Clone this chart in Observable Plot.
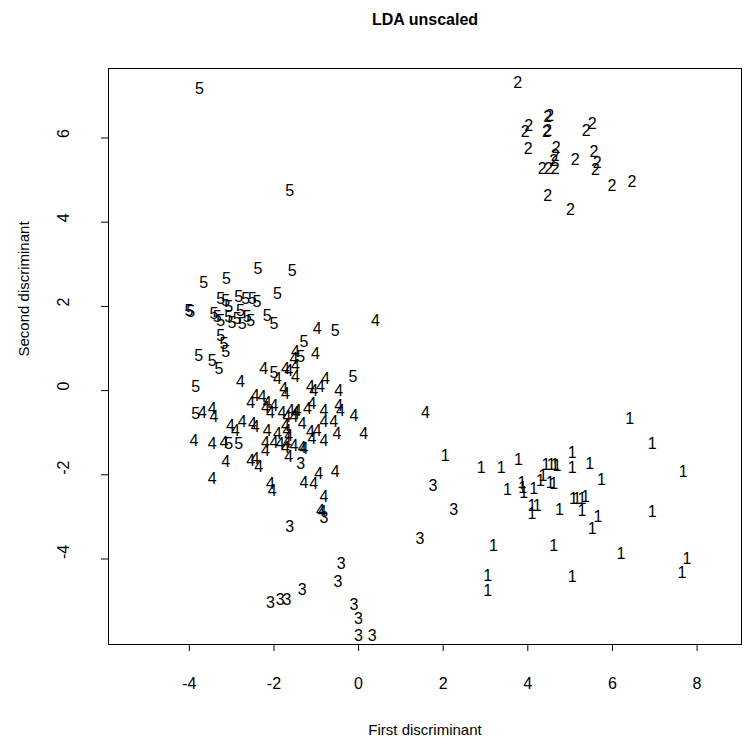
<!DOCTYPE html>
<html><head><meta charset="utf-8">
<script src="https://cdn.jsdelivr.net/npm/d3@7"></script>
<script src="https://cdn.jsdelivr.net/npm/@observablehq/plot@0.6"></script>
<style>body{margin:0;background:#fff}</style>
</head><body><div id="chart"></div>
<script>
// Chart values
const title = "LDA unscaled";
const xLabel = "First discriminant";
const yLabel = "Second discriminant";
const xTicks = [-4, -2, 0, 2, 4, 6, 8];
const yTicks = [-4, -2, 0, 2, 4, 6];
const classes = ["1", "2", "3", "4", "5"];

const group1X = [6.41,6.94,7.67,2.05,2.90,3.37,3.78,4.43,4.55,4.64,4.69,5.05,5.05,5.46,5.74,3.52,3.86,3.88,3.90,4.14,4.30,4.36,4.53,4.61,4.10,4.22,4.10,4.75,5.08,5.16,5.28,5.36,5.28,5.66,5.52,6.94,3.19,4.61,6.20,7.76,7.64,5.05,3.05,3.05];
const group1Y = [-0.67,-1.27,-1.94,-1.56,-1.84,-1.84,-1.65,-1.76,-1.76,-1.76,-1.78,-1.47,-1.84,-1.74,-2.12,-2.36,-2.18,-2.30,-2.42,-2.33,-2.14,-2.02,-2.18,-2.22,-2.73,-2.73,-2.93,-2.83,-2.57,-2.57,-2.57,-2.53,-2.85,-3.01,-3.29,-2.89,-3.68,-3.68,-3.88,-4.00,-4.32,-4.43,-4.39,-4.75];

const group2X = [3.76,4.47,4.52,4.02,3.94,4.44,4.47,5.52,5.38,4.01,4.67,4.65,5.12,5.56,5.64,5.60,4.34,4.49,4.65,4.61,5.99,6.46,4.47,5.01];
const group2Y = [7.32,6.49,6.53,6.29,6.14,6.14,6.18,6.33,6.16,5.74,5.76,5.58,5.48,5.66,5.42,5.24,5.27,5.27,5.27,5.46,4.87,4.95,4.63,4.29];

const group3X = [1.76,2.25,1.45,-1.63,-0.82,-0.41,-0.49,-1.33,-2.08,-1.85,-1.69,-0.11,0.00,0.00,0.32,-1.37];
const group3Y = [-2.26,-2.83,-3.51,-3.23,-3.02,-4.12,-4.54,-4.73,-5.03,-4.97,-4.97,-5.08,-5.42,-5.82,-5.82,-1.74];

const group4X = [1.58,0.40,-0.98,-1.02,-1.49,-1.53,-1.49,-2.24,-1.92,-1.73,-1.49,-2.79,-1.77,-1.73,-1.14,-1.06,-0.90,-0.78,-0.47,-2.44,-2.28,-2.55,-2.16,-2.20,-2.08,-2.00,-3.69,-3.46,-3.42,-1.81,-1.61,-1.49,-1.69,-1.53,-1.45,-1.21,-1.10,-0.82,-0.47,-0.43,-0.11,-3.03,-2.91,-2.75,-2.51,-2.44,-2.16,-1.92,-1.73,-1.69,-1.65,-1.33,-1.14,-0.98,-0.82,-0.59,-0.51,0.12,-3.89,-3.46,-3.18,-2.20,-2.00,-1.85,-1.69,-1.53,-1.33,-1.10,-0.82,-2.20,-1.73,-1.29,-3.14,-2.55,-2.44,-2.36,-1.65,-3.46,-2.08,-2.04,-1.29,-1.06,-0.94,-0.55,-0.82,-0.90,-0.86,-1.65];
const group4Y = [-0.52,1.66,1.47,0.87,0.91,0.75,0.59,0.52,0.28,0.52,0.32,0.20,0.04,-0.08,0.08,0.00,0.08,0.28,0.00,-0.12,-0.16,-0.28,-0.28,-0.40,-0.52,-0.36,-0.52,-0.43,-0.63,-0.52,-0.48,-0.52,-0.63,-0.63,-0.48,-0.43,-0.32,-0.48,-0.36,-0.48,-0.59,-0.83,-0.95,-0.75,-0.79,-0.87,-0.95,-1.03,-0.83,-0.95,-1.07,-0.79,-0.99,-0.95,-0.75,-0.75,-1.03,-1.03,-1.19,-1.27,-1.23,-1.23,-1.23,-1.27,-1.23,-1.31,-1.35,-1.15,-1.19,-1.43,-1.35,-1.38,-1.70,-1.66,-1.62,-1.82,-1.58,-2.10,-2.22,-2.38,-2.18,-2.22,-1.98,-1.94,-2.53,-2.85,-2.89,0.48];

const group5X = [-3.76,-1.63,-2.38,-1.57,-3.66,-3.12,-1.92,-4.01,-3.97,-3.26,-3.14,-2.83,-2.67,-2.51,-2.40,-2.16,-2.00,-3.42,-3.34,-3.26,-3.07,-2.99,-2.87,-2.79,-2.63,-2.75,-2.55,-3.07,-3.26,-3.18,-3.14,-3.78,-3.46,-3.30,-1.29,-0.55,-1.37,-2.00,-3.85,-0.13,-3.85,-3.07,-2.83];
const group5Y = [7.17,4.75,2.89,2.85,2.57,2.65,2.30,1.90,1.86,2.18,2.14,2.22,2.18,2.18,2.10,1.78,1.58,1.82,1.74,1.66,1.74,1.62,1.70,1.90,1.74,1.58,1.66,1.98,1.31,1.11,0.91,0.83,0.71,0.52,1.15,1.43,0.79,0.43,0.08,0.32,-0.55,-1.27,-1.27];

const groupsX = [group1X, group2X, group3X, group4X, group5X];
const groupsY = [group1Y, group2Y, group3Y, group4Y, group5Y];
const rows = [];
classes.forEach((c, g) => groupsX[g].forEach((x, i) => rows.push({cls: c, x, y: groupsY[g][i]})));

const chart = Plot.plot({
  width: 754,
  height: 751,
  marginLeft: 108,
  marginRight: 13,
  marginTop: 68,
  marginBottom: 107,
  style: {fontFamily: "'Liberation Sans', Arial, Helvetica, sans-serif", fontSize: "16px", background: "white", color: "black"},
  x: {domain: [-5.91, 9.05]},
  y: {domain: [-6.03, 7.65]},
  marks: [
    Plot.frame({stroke: "black", strokeWidth: 1}),
    Plot.axisX({ticks: xTicks, tickSize: 7, tickFormat: () => "", label: null}),
    Plot.axisY({ticks: yTicks, tickSize: 7, tickFormat: () => "", label: null}),
    Plot.text(xTicks, {x: d => d, frameAnchor: "bottom", dy: 44, text: d => String(d), fill: "black"}),
    Plot.text(yTicks, {y: d => d, frameAnchor: "left", dx: -45, rotate: -90, text: d => String(d), fill: "black"}),
    Plot.text([xLabel], {frameAnchor: "bottom", dy: 90, text: d => d, fontSize: 15, fill: "black"}),
    Plot.text([yLabel], {frameAnchor: "left", dx: -84, rotate: -90, text: d => d, fontSize: 15, fill: "black"}),
    Plot.text([title], {frameAnchor: "top", dy: -55, text: d => d, fontWeight: "bold", fontSize: 16, fill: "black"}),
    Plot.text(rows, {x: "x", y: "y", text: "cls", fill: "black"})
  ]
});
document.getElementById("chart").appendChild(chart);
</script>
</body></html>
